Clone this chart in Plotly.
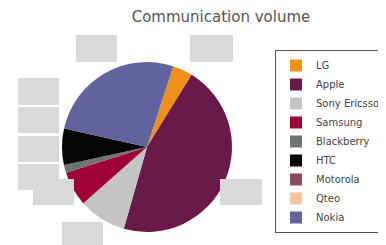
import plotly.graph_objects as go

W, H = 386, 245
OFF = 8  # page body margin offset in the browser

brands = ["LG", "Apple", "Sony Ericsson", "Samsung", "Blackberry", "HTC", "Motorola", "Qteo", "Nokia"]
shares = [3.8, 45.6, 9.1, 6.6, 1.5, 6.9, 0.0, 0.0, 26.5]
colors = ["#f0901c", "#6a1a48", "#c4c4c4", "#a00038", "#6e7474", "#050505", "#8a4a5c", "#f8c49a", "#62629c"]

# placeholder label boxes (pixel coords x0, y0, x1, y1)
boxes = [
    (76, 35, 117, 62), (190, 35, 233, 62),
    (18, 78, 59, 105), (18, 107, 59, 133), (18, 136, 59, 162), (18, 164, 59, 190),
    (33, 179, 74, 205), (220, 179, 262, 205), (62, 222, 103, 245),
]


def px(x):
    return (x - OFF) / W


def py(y):
    return 1 - (y - OFF) / H


fig = go.Figure(go.Pie(
    labels=brands, values=shares, sort=False, direction="clockwise", rotation=18,
    marker=dict(colors=colors, line=dict(width=0)),
    textinfo="none", hoverinfo="label+value",
    domain=dict(x=[px(147 - 85), px(147 + 85)], y=[py(232), py(62)]),
))

shapes = []
for (x0, y0, x1, y1) in boxes:
    shapes.append(dict(type="rect", xref="paper", yref="paper",
                       x0=px(x0), x1=px(x1), y0=py(y1), y1=py(y0),
                       fillcolor="#d9d9d9", line=dict(width=0), layer="above"))

fig.update_layout(
    width=W, height=H,
    margin=dict(l=0, r=0, t=0, b=0),
    paper_bgcolor="white", plot_bgcolor="white",
    title=dict(text="Communication volume", x=px(221), xanchor="center", y=py(17), yanchor="middle",
               font=dict(family="DejaVu Sans", size=15, color="#555555")),
    legend=dict(x=px(275), y=py(50), xanchor="left", yanchor="top",
                bordercolor="#555555", borderwidth=1, bgcolor="white",
                font=dict(family="DejaVu Sans", size=10, color="#444444"),
                itemwidth=30, tracegroupgap=0),
    shapes=shapes,
)

fig.write_html("out.html")
